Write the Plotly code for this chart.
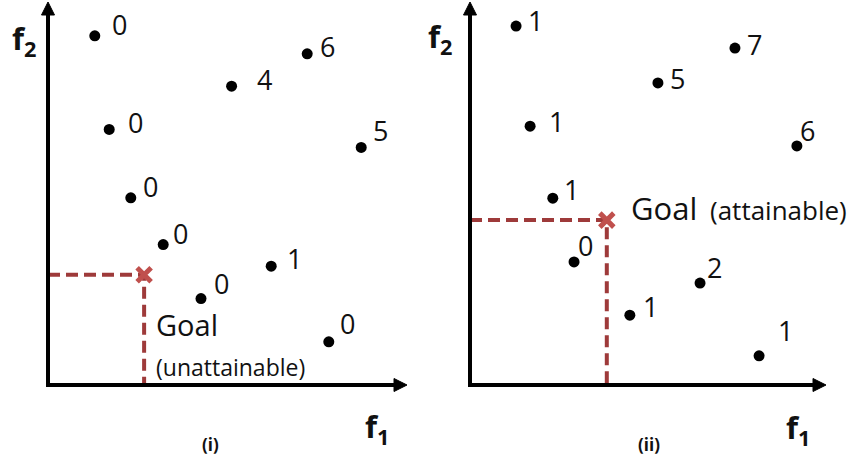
import plotly.graph_objects as go

# ---------------- data ----------------
left_f1 = [1.3, 1.7, 2.3, 3.2, 5.1, 7.2, 8.7, 6.2, 4.25, 7.8]
left_f2 = [9.7, 7.1, 5.2, 3.9, 8.3, 9.2, 6.6, 3.3, 2.4, 1.2]
left_rank = ["0", "0", "0", "0", "4", "6", "5", "1", "0", "0"]
left_goal_f1 = 2.67
left_goal_f2 = 3.06

right_f1 = [1.28, 1.67, 2.3, 5.22, 7.36, 9.08, 2.89, 6.39, 4.44, 8.03]
right_f2 = [9.97, 7.19, 5.19, 8.39, 9.36, 6.64, 3.42, 2.83, 1.94, 0.81]
right_rank = ["1", "1", "1", "5", "7", "6", "0", "2", "1", "1"]
right_goal_f1 = 3.8
right_goal_f2 = 4.58

panel_names = ["(i)", "(ii)"]

# ---------------- style ----------------
W, H = 856, 464
PX = 36.0                      # pixels per data unit
FONT = "Open Sans"
DASH_COLOR = "#9e3a3a"
X_COLOR = "#c0504d"
# label offsets (pixels, dx right, dy up)
left_off = [(25, 11), (26, 7), (20, 11), (17, 11), (33, 7), (20, 7),
            (19, 17), (23, 8), (20, 15), (19, 18)]
right_off = [(19, 6), (26, 5), (19, 9), (20, 4), (20, 4), (11, 15),
             (11, 16), (14, 16), (21, 9), (26, 25)]

x1_lo = -48 / PX
x2_lo = -42 / PX
y_lo = -79 / PX
span_x = 428 / PX
span_y = H / PX

fig = go.Figure()

panels = [
    ("x", left_f1, left_f2, left_rank, left_off, left_goal_f1, left_goal_f2,
     359 / PX),
    ("x2", right_f1, right_f2, right_rank, right_off, right_goal_f1,
     right_goal_f2, 356 / PX),
]

annotations = []
shapes = []
AX_W = 4
HEAD_L, HEAD_HW = 13, 6.5
y_top = 383 / PX
for i, (xr, fx, fy, rk, off, gx, gy, xend) in enumerate(panels):
    # axes: lines + arrowheads
    shapes.append(dict(type="line", xref=xr, yref="y", x0=-2 / PX, y0=0,
                       x1=xend - 8 / PX, y1=0,
                       line=dict(color="black", width=AX_W)))
    shapes.append(dict(type="line", xref=xr, yref="y", x0=0, y0=-2 / PX,
                       x1=0, y1=y_top - 8 / PX,
                       line=dict(color="black", width=AX_W)))
    shapes.append(dict(type="path", xref=xr, yref="y", xsizemode="pixel",
                       ysizemode="pixel", xanchor=xend, yanchor=0,
                       path=f"M{-HEAD_L},{-HEAD_HW} L0,0 L{-HEAD_L},{HEAD_HW} Z",
                       fillcolor="black", line=dict(color="black", width=1)))
    shapes.append(dict(type="path", xref=xr, yref="y", xsizemode="pixel",
                       ysizemode="pixel", xanchor=0, yanchor=y_top,
                       path=f"M{-HEAD_HW},{-HEAD_L} L0,0 L{HEAD_HW},{-HEAD_L} Z",
                       fillcolor="black", line=dict(color="black", width=1)))
    # dashed guide lines to the goal
    fig.add_trace(go.Scatter(
        x=[0, gx, gx], y=[gy, gy, 0], mode="lines", xaxis=xr, yaxis="y",
        line=dict(color=DASH_COLOR, width=4, dash="12px,6px"),
        hoverinfo="skip", showlegend=False))
    # points
    fig.add_trace(go.Scatter(
        x=fx, y=fy, mode="markers", xaxis=xr, yaxis="y",
        marker=dict(color="black", size=11), showlegend=False))
    # goal cross
    fig.add_trace(go.Scatter(
        x=[gx], y=[gy], mode="markers", xaxis=xr, yaxis="y",
        marker=dict(symbol="x-thin-open", size=14, color=X_COLOR,
                    line=dict(color=X_COLOR, width=5)),
        showlegend=False))
    # rank labels
    for vx, vy, t, (dx, dy) in zip(fx, fy, rk, off):
        annotations.append(dict(
            x=vx, y=vy, xref=xr, yref="y", text=t, showarrow=False,
            xshift=dx, yshift=dy, xanchor="center", yanchor="middle",
            font=dict(family=FONT, size=27, color="#111")))

# goal texts
annotations += [
    dict(x=left_goal_f1, y=left_goal_f2, xref="x", yref="y", text="Goal",
         showarrow=False, xanchor="left", yanchor="middle", xshift=10,
         yshift=-50, font=dict(family=FONT, size=29, color="#111")),
    dict(x=left_goal_f1, y=left_goal_f2, xref="x", yref="y",
         text="(unattainable)", showarrow=False, xanchor="left",
         yanchor="middle", xshift=10, yshift=-92,
         font=dict(family=FONT, size=23, color="#111")),
    dict(x=right_goal_f1, y=right_goal_f2, xref="x2", yref="y", text="Goal",
         showarrow=False, xanchor="left", yanchor="middle", xshift=22,
         yshift=12, font=dict(family=FONT, size=31, color="#111")),
    dict(x=right_goal_f1, y=right_goal_f2, xref="x2", yref="y",
         text="(attainable)", showarrow=False, xanchor="left",
         yanchor="middle", xshift=101, yshift=10,
         font=dict(family=FONT, size=26, color="#111")),
]

# axis titles and panel names
def paper(px, py):
    return px / W, 1 - py / H

for (px, py), t in [((377, 428), "f<sub>1</sub>"), ((24, 40), "f<sub>2</sub>"),
                    ((798, 429), "f<sub>1</sub>"), ((440, 38), "f<sub>2</sub>")]:
    xx, yy = paper(px, py)
    annotations.append(dict(x=xx, y=yy, xref="paper", yref="paper",
                            text="<b>" + t + "</b>", showarrow=False,
                            xanchor="center", yanchor="middle",
                            font=dict(family=FONT, size=31, color="#111")))
for (px, py), t in zip([(210, 444), (649, 444)], panel_names):
    xx, yy = paper(px, py)
    annotations.append(dict(x=xx, y=yy, xref="paper", yref="paper",
                            text="<b>" + t + "</b>", showarrow=False,
                            xanchor="center", yanchor="middle",
                            font=dict(family=FONT, size=17, color="#111")))

hidden = dict(visible=False, showgrid=False, zeroline=False, fixedrange=True)
fig.update_layout(
    width=W, height=H, margin=dict(l=0, r=0, t=0, b=0),
    paper_bgcolor="white", plot_bgcolor="white", showlegend=False,
    xaxis=dict(domain=[0, 0.5], range=[x1_lo, x1_lo + span_x], **hidden),
    xaxis2=dict(domain=[0.5, 1], range=[x2_lo, x2_lo + span_x], **hidden),
    yaxis=dict(domain=[0, 1], range=[y_lo, y_lo + span_y], **hidden),
    annotations=annotations, shapes=shapes,
)

fig.write_html("out.html")
